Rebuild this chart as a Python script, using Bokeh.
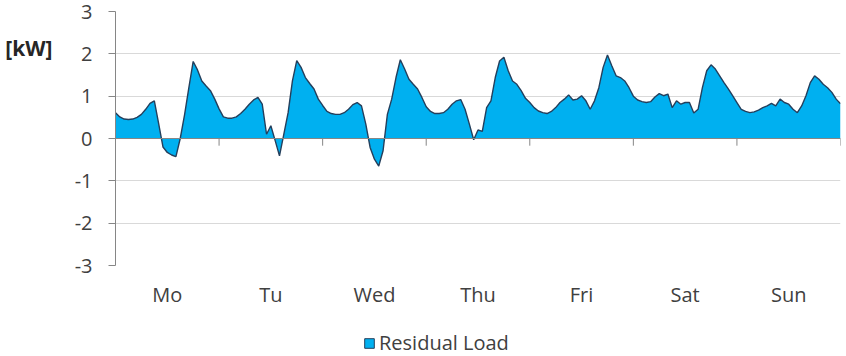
from bokeh.plotting import figure
from bokeh.layouts import column
from bokeh.models import (Range1d, FixedTicker, Span, Legend, LegendItem,
                          LinearAxis)
from bokeh.embed import file_html
from bokeh.resources import INLINE

days = ["Mo", "Tu", "Wed", "Thu", "Fri", "Sat", "Sun"]
y_ticks = [-3, -2, -1, 0, 1, 2, 3]
y_tick_labels = ["-3", "-2", "-1", "0", "1", "2", "3"]
unit_label = "[kW]"
series_name = "Residual Load"

mo = [0.61, 0.51, 0.46, 0.45, 0.46, 0.50, 0.57, 0.69, 0.83, 0.89, 0.35, -0.20,
      -0.33, -0.39, -0.43, 0.00, 0.56, 1.20, 1.82, 1.62, 1.36, 1.24, 1.13, 0.93]
tu = [0.70, 0.51, 0.48, 0.48, 0.51, 0.59, 0.69, 0.81, 0.91, 0.97, 0.81, 0.10,
      0.30, -0.05, -0.41, 0.10, 0.61, 1.36, 1.84, 1.68, 1.44, 1.30, 1.17, 0.93]
we = [0.78, 0.64, 0.59, 0.57, 0.57, 0.61, 0.69, 0.80, 0.85, 0.77, 0.34, -0.21,
      -0.49, -0.65, -0.29, 0.57, 0.93, 1.44, 1.86, 1.64, 1.40, 1.28, 1.17, 0.97]
th = [0.75, 0.64, 0.59, 0.59, 0.61, 0.69, 0.81, 0.89, 0.92, 0.69, 0.34, -0.03,
      0.20, 0.17, 0.73, 0.89, 1.44, 1.83, 1.92, 1.60, 1.36, 1.28, 1.13, 0.95]
fr = [0.85, 0.73, 0.65, 0.61, 0.59, 0.64, 0.73, 0.85, 0.93, 1.03, 0.91, 0.93,
      1.01, 0.89, 0.69, 0.89, 1.20, 1.68, 1.97, 1.72, 1.48, 1.44, 1.36, 1.20]
sa = [1.00, 0.91, 0.87, 0.85, 0.87, 0.98, 1.06, 1.01, 1.05, 0.73, 0.89, 0.81,
      0.85, 0.85, 0.60, 0.69, 1.20, 1.60, 1.74, 1.64, 1.48, 1.32, 1.17, 1.01]
su = [0.85, 0.69, 0.64, 0.61, 0.63, 0.67, 0.73, 0.77, 0.83, 0.77, 0.93, 0.85,
      0.81, 0.69, 0.61, 0.77, 1.01, 1.32, 1.48, 1.40, 1.28, 1.20, 1.09, 0.93]
week_end = [0.82]

residual_load = mo + tu + we + th + fr + sa + su + week_end
hours = list(range(len(residual_load)))

FILL = "#00B0F0"
EDGE = "#243F5C"
AXIS = "#868686"
TEXT = "#404040"
FONT = "Open Sans"

p = figure(width=846, height=328, output_backend="svg", toolbar_location=None,
           x_range=Range1d(0, 24 * len(days)), y_range=Range1d(-3, 3),
           min_border_left=115, min_border_right=6, min_border_top=11,
           min_border_bottom=63, x_axis_location=None, y_axis_location=None)
p.outline_line_color = None
p.background_fill_color = "white"
p.border_fill_color = "white"

# grid
p.xgrid.visible = False
p.ygrid.ticker = FixedTicker(ticks=y_ticks)
p.ygrid.grid_line_color = "#D9D9D9"
p.ygrid.grid_line_width = 1

# left axis
yax = LinearAxis(ticker=FixedTicker(ticks=y_ticks))
yax.major_label_overrides = {t: s for t, s in zip(y_ticks, y_tick_labels)}
yax.axis_line_color = AXIS
yax.major_tick_line_color = AXIS
yax.major_tick_out = 7
yax.major_tick_in = 0
yax.minor_tick_line_color = None
yax.major_label_standoff = 16
yax.major_label_text_font = FONT
yax.major_label_text_font_size = "20px"
yax.major_label_text_color = TEXT
p.add_layout(yax, "left")

# unit label as an outer left "axis" carrying one label
unit_pos = 2.13
uax = LinearAxis(ticker=FixedTicker(ticks=[unit_pos]))
uax.major_label_overrides = {unit_pos: unit_label}
uax.axis_line_color = None
uax.major_tick_line_color = None
uax.minor_tick_line_color = None
uax.major_tick_out = 0
uax.major_label_standoff = 19
uax.major_label_text_font = FONT
uax.major_label_text_font_size = "21px"
uax.major_label_text_font_style = "bold"
uax.major_label_text_color = "#262626"
p.add_layout(uax, "left")

# bottom axis with day labels
centers = [24 * i + 12 for i in range(len(days))]
xax = LinearAxis(ticker=FixedTicker(ticks=centers))
xax.major_label_overrides = {c: d for c, d in zip(centers, days)}
xax.axis_line_color = None
xax.major_tick_line_color = None
xax.minor_tick_line_color = None
xax.major_tick_out = 0
xax.major_label_standoff = 15
xax.major_label_text_font = FONT
xax.major_label_text_font_size = "20px"
xax.major_label_text_color = TEXT
p.add_layout(xax, "below")

# area
area = p.varea(x=hours, y1=0, y2=residual_load, fill_color=FILL)
p.line(hours, residual_load, line_color=EDGE, line_width=1.4)

# zero axis line and day-boundary ticks
p.add_layout(Span(location=0, dimension="width", line_color=AXIS, line_width=1))
bounds = [24 * i for i in range(len(days) + 1)]
p.segment(x0=bounds, y0=[0] * len(bounds), x1=bounds, y1=[-0.17] * len(bounds),
          line_color=AXIS, line_width=1)

# legend strip below the chart (its frame aligns with the chart frame)
lg = figure(width=846, height=28, output_backend="svg", toolbar_location=None,
            min_border=0, x_axis_location=None, y_axis_location=None)
lg.outline_line_color = None
lg.xgrid.visible = False
lg.ygrid.visible = False
lg.border_fill_color = "white"
# hidden stand-in renderer (same series) that only supplies the legend swatch
swatch = lg.quad(left=hours[:-1], right=hours[1:], top=residual_load[:-1],
                 bottom=0, fill_color=FILL, line_color=EDGE, line_width=1,
                 visible=False)
legend = Legend(items=[LegendItem(label=series_name, renderers=[swatch])],
                location=(248, 0), orientation="horizontal",
                glyph_width=12, glyph_height=12, label_standoff=4,
                padding=0, margin=0, spacing=0, border_line_color=None,
                background_fill_alpha=0, inactive_fill_alpha=0,
                label_text_font=FONT,
                label_text_font_size="20px", label_text_color=TEXT)
lg.add_layout(legend, "center")

layout = column(p, lg, spacing=0)
open("out.html", "w").write(file_html(layout, INLINE))
